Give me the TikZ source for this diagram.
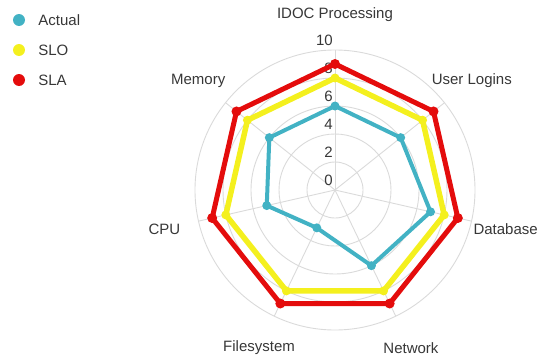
\documentclass[tikz,border=0pt]{standalone}
\usepackage{fontspec}
\setmainfont{Liberation Sans}
\usetikzlibrary{positioning}
\definecolor{actualc}{RGB}{66,178,196}
\definecolor{sloc}{RGB}{244,240,30}
\definecolor{slac}{RGB}{228,12,12}
\definecolor{gridc}{RGB}{218,218,218}
\definecolor{textc}{RGB}{55,55,55}

\begin{document}
\begin{tikzpicture}[x=1pt,y=1pt,
  grid line/.style  = {draw=gridc, line width=0.9pt},
  axis label/.style = {text=textc, font=\fontsize{15}{18}\selectfont, inner sep=0pt},
  tick label/.style = {text=textc, font=\fontsize{15}{18}\selectfont, inner sep=0pt, anchor=east},
  series/.style     = {draw=#1, line join=round},
  legend dot/.style = {circle, inner sep=0pt, minimum size=12pt},
  legend text/.style= {text=textc, font=\fontsize{15}{18}\selectfont, inner sep=0pt, anchor=west},
  ]
  \useasboundingbox (0,0) rectangle (544,360);
  \coordinate (O) at (335,170);

  % grid rings and spokes
  \foreach \r in {2,4,...,10}
    \draw[grid line] (O) circle[radius=\r*14pt];
  \foreach \name/\txt [count=\i from 0] in {idoc/IDOC Processing, logins/User Logins,
      database/Database, network/Network, filesystem/Filesystem, cpu/CPU, memory/Memory}{
    \path (O) ++({90-\i*360/7}:140) coordinate (\name-end);
    \draw[grid line] (O) -- (\name-end);
    \path (O) ++({90-\i*360/7}:175) node[axis label] (\name-lbl) {\txt};
  }

  % scale
  \foreach \t in {0,2,...,10}
    \path (O) ++(-2,{\t*14+10}) node[tick label] (tick-\t) {\t};

  % data points
  \foreach \name/\v [count=\i from 0] in {idoc/6, logins/6, database/7, network/6,
      filesystem/3, cpu/5, memory/6}
    \path (O) ++({90-\i*360/7}:{\v*14}) coordinate (act-\name);
  \foreach \name [count=\i from 0] in {idoc,logins,database,network,filesystem,cpu,memory}{
    \path (O) ++({90-\i*360/7}:112) coordinate (slo-\name);
    \path (O) ++({90-\i*360/7}:126) coordinate (sla-\name);
  }

  \draw[series=sloc, line width=5.5pt] (slo-idoc) -- (slo-logins) -- (slo-database)
    -- (slo-network) -- (slo-filesystem) -- (slo-cpu) -- (slo-memory) -- cycle;
  \draw[series=slac, line width=5pt] (sla-idoc) -- (sla-logins) -- (sla-database)
    -- (sla-network) -- (sla-filesystem) -- (sla-cpu) -- (sla-memory) -- cycle;
  \draw[series=actualc, line width=4pt] (act-idoc) -- (act-logins) -- (act-database)
    -- (act-network) -- (act-filesystem) -- (act-cpu) -- (act-memory) -- cycle;
  \foreach \name in {idoc,logins,database,network,filesystem,cpu,memory}{
    \fill[sloc] (slo-\name) circle[radius=4.5pt];
    \fill[slac] (sla-\name) circle[radius=5pt];
    \fill[actualc] (act-\name) circle[radius=4.5pt];
  }

  % legend
  \node[legend dot, fill=actualc] (leg-act) at (19,340) {};
  \node[legend dot, fill=sloc]    (leg-slo) at (19,310) {};
  \node[legend dot, fill=slac]    (leg-sla) at (19,280) {};
  \node[legend text, right=13pt of leg-act] (leg-act-txt) {Actual};
  \node[legend text, right=13pt of leg-slo] (leg-slo-txt) {SLO};
  \node[legend text, right=13pt of leg-sla] (leg-sla-txt) {SLA};
\end{tikzpicture}
\end{document}
